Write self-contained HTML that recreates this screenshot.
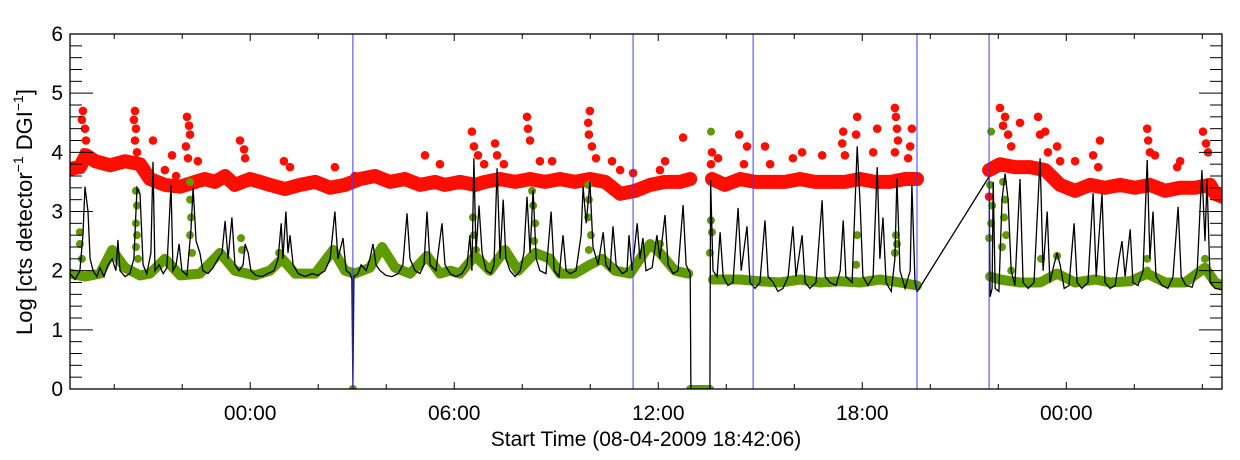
<!DOCTYPE html>
<html><head><meta charset="utf-8">
<style>
html,body{margin:0;padding:0;background:#fff;}
svg{display:block;font-family:"Liberation Sans",Arial,sans-serif;}
</style></head>
<body>
<svg id="chart" width="1240" height="460" viewBox="0 0 1240 460" xmlns="http://www.w3.org/2000/svg">
<rect x="0" y="0" width="1240" height="460" fill="#fff"/>
<g id="marks"></g>
<g id="axes"></g>
<text x="646" y="446" font-size="21" text-anchor="middle">Start Time (08-04-2009 18:42:06)</text>
<text transform="translate(32,212) rotate(-90)" font-size="22" text-anchor="middle">Log [cts detector<tspan dy="-9" font-size="14">−1</tspan><tspan dy="9"> DGI</tspan><tspan dy="-9" font-size="14">−1</tspan><tspan dy="9">]</tspan></text>
</svg>
<script>
// time axis: hours since start (18:42:06)
const xTickLabels = ["00:00","06:00","12:00","18:00","00:00"];
const xTickHours = [5.30, 11.30, 17.30, 23.30, 29.30];
const yTickLabels = ["0","1","2","3","4","5","6"];
const markerHours = [8.32, 16.56, 20.09, 24.91, 27.03];

const blackT = [0,.15,.29,.38,.44,.53,.59,.68,.79,.88,1.0,1.12,1.24,1.35,1.41,1.47,1.62,1.76,1.88,1.97,2.06,2.15,2.26,2.38,2.44,2.5,2.62,2.74,2.85,2.97,3.03,3.12,3.21,3.29,3.44,3.56,3.62,3.71,3.82,3.91,4.06,4.21,4.35,4.47,4.56,4.65,4.76,4.85,4.97,5.09,5.15,5.24,5.32,5.47,5.65,5.82,6.0,6.12,6.21,6.26,6.35,6.41,6.47,6.56,6.71,6.91,7.12,7.29,7.5,7.65,7.79,7.88,8.03,8.12,8.24,8.29,8.32,8.35,8.47,8.56,8.71,8.82,8.91,9.0,9.12,9.29,9.47,9.65,9.79,9.91,10.0,10.15,10.29,10.41,10.5,10.59,10.76,10.94,11.03,11.18,11.35,11.53,11.68,11.76,11.82,11.88,11.94,12.03,12.12,12.24,12.38,12.47,12.56,12.65,12.74,12.82,12.94,13.09,13.24,13.35,13.44,13.53,13.62,13.71,13.82,14.0,14.15,14.24,14.38,14.5,14.59,14.71,14.88,15.03,15.09,15.18,15.29,15.38,15.53,15.68,15.76,15.88,15.97,16.06,16.24,16.38,16.44,16.53,16.68,16.76,16.85,16.94,17.12,17.26,17.35,17.5,17.59,17.74,17.88,18.03,18.12,18.24,18.26,18.82,18.84,18.91,19.03,19.12,19.21,19.35,19.5,19.65,19.74,19.91,20.0,20.15,20.29,20.44,20.53,20.68,20.82,20.97,21.12,21.26,21.35,21.53,21.62,21.76,21.94,22.12,22.21,22.35,22.53,22.65,22.74,22.82,23.0,23.15,23.24,23.32,23.47,23.62,23.74,23.82,23.91,24.0,24.15,24.26,24.32,24.41,24.56,24.71,24.76,24.85,24.91,27.03,27.06,27.12,27.15,27.21,27.32,27.41,27.5,27.59,27.68,27.79,27.94,28.03,28.18,28.35,28.53,28.62,28.74,28.82,28.94,29.03,29.12,29.24,29.38,29.53,29.62,29.76,29.94,30.09,30.18,30.35,30.44,30.59,30.74,30.85,30.94,31.03,31.18,31.26,31.41,31.56,31.68,31.76,31.85,31.94,32.12,32.29,32.44,32.59,32.68,32.82,33.0,33.15,33.29,33.38,33.44,33.53,33.68,33.88];
const blackV = [1.95,1.85,2.0,2.6,3.42,3.0,2.2,2.0,1.9,2.05,1.9,2.1,2.2,2.0,2.52,2.0,1.9,1.95,2.2,3.4,3.3,2.1,1.95,2.3,3.84,2.0,2.1,1.95,2.05,3.45,2.0,2.1,2.45,2.0,1.92,2.7,3.4,2.5,2.3,2.0,1.95,2.05,2.2,2.3,2.84,2.2,2.9,2.1,2.0,2.1,2.45,2.3,2.0,1.92,1.9,1.95,2.0,2.2,2.8,2.2,3.0,2.3,2.6,2.1,1.95,1.9,1.95,1.92,2.0,2.2,3.0,2.2,2.55,2.0,1.95,1.85,0,1.9,1.95,2.1,2.0,2.2,2.45,2.1,2.0,1.92,1.9,1.95,2.1,2.97,2.2,2.0,1.95,2.1,3.0,2.1,2.0,2.8,2.1,1.95,1.9,1.95,2.1,2.6,2.0,3.9,2.3,3.1,2.3,2.0,1.95,2.1,3.73,2.2,3.2,2.2,2.0,1.9,2.0,2.3,3.25,2.3,3.36,2.2,2.0,1.95,3.0,2.0,1.9,2.6,2.0,1.95,2.0,2.6,3.42,2.8,3.5,2.4,2.1,2.65,2.1,2.0,2.75,2.1,1.95,2.0,2.6,2.0,2.8,2.2,2.55,2.0,2.05,2.6,2.2,2.94,2.1,1.95,2.0,3.11,2.1,1.95,0,0,3.53,2.0,1.9,2.65,1.9,1.75,1.8,3.06,2.0,2.75,1.8,1.7,1.8,2.85,1.9,1.8,1.65,1.7,1.9,2.75,1.9,2.6,1.8,1.7,1.8,3.19,1.9,1.8,1.75,2.0,2.85,1.9,1.8,4.1,3.1,1.9,1.75,1.9,3.75,2.2,2.9,1.8,1.65,2.2,3.56,2.0,1.7,2.0,3.45,1.8,1.64,3.59,1.56,1.7,3.5,1.7,1.65,3.2,3.64,3.2,2.0,1.75,3.55,1.8,1.7,1.8,3.9,2.0,3.0,1.8,2.1,2.3,2.1,1.7,1.75,2.8,1.8,1.7,1.8,3.31,1.9,3.3,1.8,1.7,1.75,2.2,2.5,1.9,2.7,1.8,1.75,2.0,3.87,2.2,3.0,1.9,1.75,1.7,1.9,3.08,1.9,1.75,1.72,2.0,3.7,2.5,3.55,1.8,1.7,1.68];

// smooth bands (null = data gap)
const greenBandT = [0,.44,.88,1.24,1.62,2.06,2.35,2.79,3.24,3.82,4.41,4.85,5.44,5.88,6.24,6.62,7.21,7.74,8.09,8.38,8.82,9.18,9.56,10.0,10.5,10.88,11.18,11.47,11.91,12.35,12.79,13.18,13.68,14.12,14.41,14.85,15.29,15.65,16.03,16.47,17.06,17.35,17.79,18.18,null,18.91,19.71,20.29,20.88,21.47,22.06,22.65,23.24,23.82,24.41,24.91,null,27.06,27.35,27.94,28.53,29.03,29.56,30.15,30.59,31.18,31.68,32.21,32.79,33.38,33.68,33.88];
const greenBandV = [1.95,1.9,1.95,2.35,2.05,1.92,1.95,2.2,1.92,1.95,2.3,2.0,1.92,2.0,2.2,1.95,1.95,2.35,2.0,1.95,2.05,2.4,2.05,1.95,2.25,1.95,2.0,1.95,2.25,2.0,2.35,2.0,2.3,2.2,1.95,1.95,2.1,2.2,2.0,1.95,2.45,2.3,2.0,1.95,null,1.85,1.85,1.82,1.8,1.85,1.8,1.82,1.8,1.85,1.8,1.75,null,1.9,1.85,1.8,1.8,1.95,1.8,1.85,1.8,1.82,1.95,1.8,1.8,2.05,1.8,1.75];
const greenDotT = [.29,.29,.35,1.94,1.97,1.94,1.97,1.94,2.0,3.53,3.53,3.56,3.53,3.59,5.03,5.06,6.15,11.85,11.88,11.94,13.59,13.62,13.68,13.65,13.74,15.24,15.26,15.24,15.32,15.26,17.35,18.85,18.85,18.88,18.82,23.15,23.12,24.29,24.32,24.26,27.09,27.06,27.12,27.09,27.03,27.44,27.5,27.47,27.53,27.41,27.68,28.56,29.03,31.68,31.68,33.38,8.32,18.24,18.38,18.53,18.68,18.82];
const greenDotV = [2.65,2.45,2.2,3.35,3.1,2.8,2.6,2.4,2.2,3.5,3.2,2.9,2.6,2.3,2.55,2.35,2.3,2.9,2.6,2.35,3.35,3.1,2.8,2.5,2.25,3.45,3.2,2.9,2.6,2.35,2.45,4.35,2.85,2.65,2.3,2.6,2.1,2.6,2.45,2.3,4.35,3.45,3.1,2.8,2.55,3.5,3.2,2.9,2.6,2.4,2.0,2.2,2.25,2.2,2.0,2.2,0,0,0,0,0,0];

const redBandT = [0,.29,.47,.74,1.18,1.62,2.06,2.35,2.79,3.24,3.68,3.97,4.26,4.56,4.85,5.29,5.59,5.88,6.32,6.76,7.21,7.65,8.09,8.53,8.97,9.41,9.85,10.29,10.74,11.03,11.47,11.91,12.21,12.65,13.09,13.53,13.97,14.41,14.85,15.29,15.74,16.18,16.62,17.06,17.5,17.94,18.24,null,18.88,19.26,19.71,20.15,20.59,21.03,21.47,21.91,22.35,22.79,23.24,23.68,24.12,24.56,24.91,null,27.03,27.35,27.79,28.24,28.68,29.12,29.56,30.0,30.44,30.88,31.32,31.76,32.21,32.65,33.09,33.53,33.68,33.88];
const redBandV = [3.72,3.75,3.95,3.85,3.78,3.85,3.8,3.55,3.45,3.42,3.5,3.55,3.5,3.6,3.45,3.55,3.5,3.45,3.38,3.45,3.5,3.4,3.45,3.55,3.6,3.5,3.55,3.45,3.5,3.45,3.5,3.45,3.5,3.55,3.5,3.55,3.5,3.55,3.5,3.55,3.5,3.3,3.35,3.45,3.5,3.5,3.55,null,3.55,3.45,3.55,3.5,3.5,3.5,3.55,3.5,3.5,3.5,3.55,3.5,3.5,3.55,3.55,null,3.7,3.8,3.75,3.75,3.7,3.45,3.35,3.45,3.4,3.45,3.4,3.45,3.35,3.4,3.4,3.45,3.3,3.25];
const redDotT = [.38,.35,.44,.47,.41,1.91,1.88,1.94,1.91,1.97,2.44,3.0,2.79,3.12,3.44,3.5,3.53,3.41,3.47,3.76,5.0,5.12,5.15,6.29,6.47,7.79,8.38,10.44,10.88,11.82,11.88,12.0,12.18,12.5,12.56,12.76,13.44,13.47,13.53,13.82,14.18,15.29,15.24,15.26,15.35,15.47,15.94,16.18,16.56,17.5,18.03,17.35,18.88,18.85,19.06,19.68,19.91,19.82,20.44,20.59,21.26,21.53,22.12,22.74,22.71,22.79,23.15,23.12,23.74,23.62,24.26,24.29,24.32,24.35,24.26,24.76,24.71,24.65,27.03,27.35,27.5,27.44,27.59,27.68,27.94,28.47,28.53,28.68,28.76,29.03,29.12,29.56,30.09,30.29,30.24,31.68,31.71,31.76,31.91,32.65,32.56,33.32,33.41,33.47];
const redDotV = [4.7,4.55,4.4,4.2,4.0,4.7,4.55,4.4,4.2,4.0,4.2,3.95,3.7,3.6,4.6,4.45,4.3,4.1,3.9,3.85,4.2,4.05,3.9,3.85,3.75,3.75,3.6,3.95,3.8,4.35,4.1,3.95,3.8,4.15,3.95,3.8,4.6,4.4,4.2,3.85,3.85,4.7,4.5,4.3,4.1,3.9,3.85,3.7,3.65,3.85,4.25,3.7,4.0,3.8,3.9,4.3,4.1,3.8,4.1,3.8,3.9,4.0,3.95,4.35,4.15,3.95,4.6,4.3,4.4,4.0,4.75,4.6,4.4,4.2,4.0,4.4,4.1,3.9,3.25,4.75,4.6,4.45,4.3,4.1,4.5,4.6,4.3,4.35,4.0,4.1,3.85,3.85,3.95,4.2,3.75,4.4,4.2,4.0,3.95,3.85,3.75,4.35,4.15,4.0];

const L=70,R=1222,T=34,B=389, TMAX=33.88, VMAX=6;
const sx = t => L + (t/TMAX)*(R-L);
const sy = v => B - (v/VMAX)*(B-T);
const NS="http://www.w3.org/2000/svg";
const marks=document.getElementById('marks');
const axes=document.getElementById('axes');
function mk(tag, attrs, parent){const e=document.createElementNS(NS,tag);for(const k in attrs)e.setAttribute(k,attrs[k]);parent.appendChild(e);return e;}
function pathD(ts,vs){let d="",pen=false;for(let i=0;i<ts.length;i++){if(ts[i]===null){pen=false;continue;}d+=(pen?"L":"M")+sx(ts[i]).toFixed(1)+","+sy(vs[i]).toFixed(1);pen=true;}return d;}

const clip=mk('clipPath',{id:'plotclip'},marks);
mk('rect',{x:L,y:T-10,width:R-L,height:B-T+10},clip);
const g=mk('g',{'clip-path':'url(#plotclip)'},marks);

const rb=mk('path',{d:pathD(redBandT,redBandV),fill:'none',stroke:'#ff0d00','stroke-width':14,'stroke-linejoin':'round','stroke-linecap':'round'},g);


for(let i=0;i<redDotT.length;i++){
  const c=mk('circle',{cx:sx(redDotT[i]),cy:sy(redDotV[i]),r:4.3,fill:'#ff0d00'},g);
  
  
}
const gb=mk('path',{d:pathD(greenBandT,greenBandV),fill:'none',stroke:'#5f9a00','stroke-width':10,'stroke-linejoin':'round','stroke-linecap':'round'},g);


for(let i=0;i<greenDotT.length;i++){
  const c=mk('circle',{cx:sx(greenDotT[i]),cy:sy(greenDotV[i]),r:4,fill:'#5f9a00'},g);
  
  
}
const zb=mk('line',{x1:sx(18.24),x2:sx(18.82),y1:sy(0)-1,y2:sy(0)-1,stroke:'#5f9a00','stroke-width':6},g);


const bl=mk('path',{d:pathD(blackT,blackV),fill:'none',stroke:'#000','stroke-width':1.3},g);


for(const h of markerHours){
  const l=mk('line',{x1:sx(h),x2:sx(h),y1:T,y2:B,stroke:'#3b3bff','stroke-width':1},marks);
  
  
}

// axes frame
const fr=mk('rect',{x:L,y:T,width:R-L,height:B-T,fill:'none',stroke:'#000','stroke-width':1.3},axes);


// y ticks
for(let k=0;k<=30;k++){
  const v=k*0.2, y=sy(v), major=(k%5===0), len=major?23:12;
  mk('line',{x1:L,x2:L+len,y1:y,y2:y,stroke:'#000','stroke-width':1},axes);
  mk('line',{x1:R,x2:R-len,y1:y,y2:y,stroke:'#000','stroke-width':1},axes);
}
for(let i=0;i<yTickLabels.length;i++){
  const t=mk('text',{x:L-7,y:sy(i)+7,'font-size':21,'text-anchor':'end'},axes);
  t.textContent=yTickLabels[i];
  
  
}
// x ticks
for(let h=1.30;h<TMAX;h+=2){
  const x=sx(h), major=xTickHours.some(m=>Math.abs(m-h)<0.01), len=major?7:5;
  mk('line',{x1:x,x2:x,y1:B,y2:B-len,stroke:'#000','stroke-width':1},axes);
  mk('line',{x1:x,x2:x,y1:T,y2:T+len,stroke:'#000','stroke-width':1},axes);
}
for(let i=0;i<xTickLabels.length;i++){
  const t=mk('text',{x:sx(xTickHours[i]),y:420,'font-size':21,'text-anchor':'middle'},axes);
  t.textContent=xTickLabels[i];
  
  
}
</script>
</body></html>
